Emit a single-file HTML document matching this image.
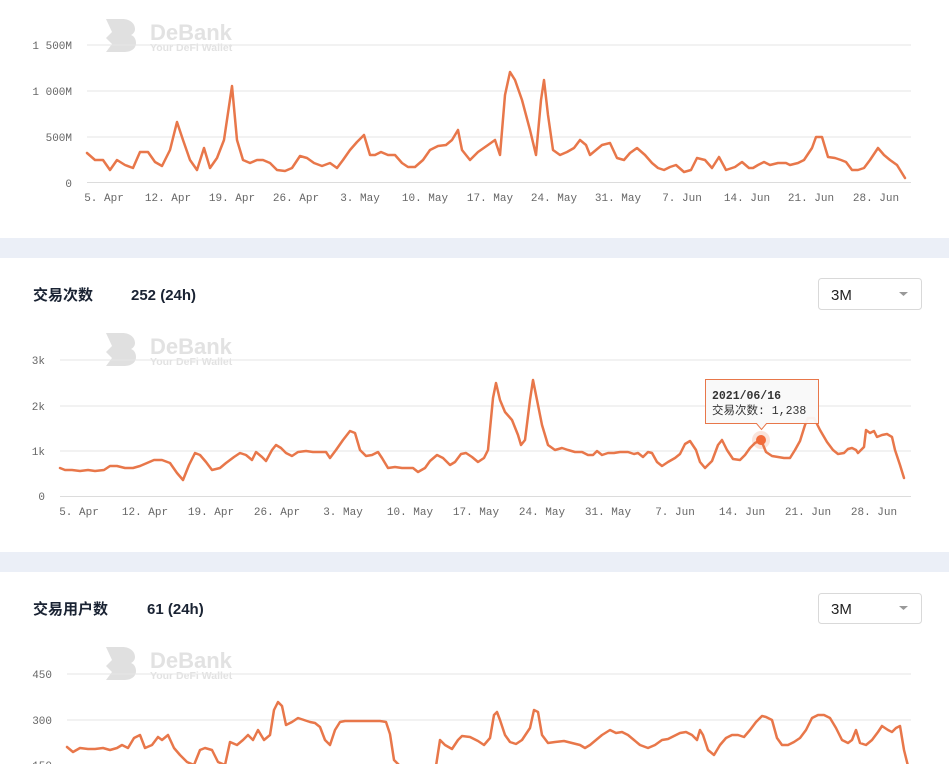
<!DOCTYPE html>
<html><head><meta charset="utf-8"><style>
html,body{margin:0;padding:0;background:#fff;width:949px;height:764px;overflow:hidden}
svg{display:block}
.ax{font-family:"Liberation Mono","Courier New",monospace;font-size:11px;fill:#666}
.t{font-family:"Liberation Sans","Noto Sans CJK SC",sans-serif;font-weight:bold;fill:#1a2333}
.wm{font-family:"Liberation Sans",sans-serif;font-weight:bold;fill:#e2e2e2}
.ln{fill:none;stroke:#e8774a;stroke-width:2.5;stroke-linejoin:round;stroke-linecap:round}
.g{stroke:#e6e6e6;stroke-width:1}
</style></head><body>
<svg width="949" height="764" viewBox="0 0 949 764" xmlns="http://www.w3.org/2000/svg">
<rect x="0" y="238" width="949" height="20" fill="#ebeff7"/>
<rect x="0" y="552" width="949" height="20" fill="#ebeff7"/>

<g>
<path d="M106 19h16c10 0 13 6 13 10 0 3-2 5-4 6 3 1 5 4 5 8 0 5-4 9-12 9h-18l6-8-6-6 6-6z" fill="#e0e0e0"/>
<text class="wm" x="150" y="40" font-size="22">DeBank</text>
<text class="wm" x="150" y="51" font-size="10.5">Your DeFi Wallet</text>
</g>
<g transform="translate(0,314)">
<path d="M106 19h16c10 0 13 6 13 10 0 3-2 5-4 6 3 1 5 4 5 8 0 5-4 9-12 9h-18l6-8-6-6 6-6z" fill="#e0e0e0"/>
<text class="wm" x="150" y="40" font-size="22">DeBank</text>
<text class="wm" x="150" y="51" font-size="10.5">Your DeFi Wallet</text>
</g>
<g transform="translate(0,628)">
<path d="M106 19h16c10 0 13 6 13 10 0 3-2 5-4 6 3 1 5 4 5 8 0 5-4 9-12 9h-18l6-8-6-6 6-6z" fill="#e0e0e0"/>
<text class="wm" x="150" y="40" font-size="22">DeBank</text>
<text class="wm" x="150" y="51" font-size="10.5">Your DeFi Wallet</text>
</g>

<!-- chart 1 -->
<line class="g" x1="87" y1="45" x2="911" y2="45"/>
<line class="g" x1="87" y1="91" x2="911" y2="91"/>
<line class="g" x1="87" y1="137" x2="911" y2="137"/>
<line x1="87" y1="182.5" x2="911" y2="182.5" stroke="#dcdcdc"/>
<g class="ax" text-anchor="end">
<text x="72" y="49">1 500M</text><text x="72" y="95">1 000M</text><text x="72" y="141">500M</text><text x="72" y="187">0</text>
</g>
<g class="ax" text-anchor="middle">
<text x="104" y="201">5. Apr</text><text x="168" y="201">12. Apr</text><text x="232" y="201">19. Apr</text><text x="296" y="201">26. Apr</text><text x="360" y="201">3. May</text><text x="425" y="201">10. May</text><text x="490" y="201">17. May</text><text x="554" y="201">24. May</text><text x="618" y="201">31. May</text><text x="682" y="201">7. Jun</text><text x="747" y="201">14. Jun</text><text x="811" y="201">21. Jun</text><text x="876" y="201">28. Jun</text>
</g>
<polyline class="ln" points="87,153 95,160 103,160 110,170 117,160 125,165 133,168 140,152 148,152 155,162 162,166 170,150 177,122 183,140 190,160 197,170 204,148 210,168 217,158 224,140 232,86 237,140 243,160 250,163 257,160 263,160 270,163 277,170 285,171 292,168 300,156 307,158 314,163 322,166 330,163 337,168 343,160 350,150 357,142 364,135 370,155 375,155 381,152 388,155 395,155 402,163 408,167 415,167 423,160 430,150 438,146 446,145 452,140 458,130 462,150 470,160 478,152 488,145 495,140 500,155 505,95 510,72 515,80 522,100 530,130 536,155 541,100 544,80 548,115 553,150 560,155 567,152 574,148 580,140 586,145 590,155 596,150 602,145 610,143 617,158 624,160 630,153 637,148 645,155 652,163 658,168 664,170 670,167 676,165 684,172 691,170 697,158 705,160 712,168 719,157 726,170 735,167 742,162 749,168 753,168 758,165 764,162 770,165 778,163 786,163 790,165 798,163 804,160 812,148 816,137 822,137 828,157 835,158 841,160 846,162 852,170 858,170 864,168 870,160 878,148 884,155 890,160 897,165 905,178"/>

<!-- chart 2 header -->
<text class="t" x="33" y="300" font-size="15">交易次数</text>
<text class="t" x="131" y="300" font-size="15">252 (24h)</text>
<rect x="818.5" y="278.5" width="103" height="31" rx="3" fill="#fff" stroke="#d9d9d9"/>
<text x="831" y="300" font-family="Liberation Sans,sans-serif" font-size="15" fill="#222">3M</text>
<path d="M899 292h9l-4.5 4z" fill="#999"/>

<line class="g" x1="60" y1="360" x2="911" y2="360"/>
<line class="g" x1="60" y1="406" x2="911" y2="406"/>
<line class="g" x1="60" y1="451" x2="911" y2="451"/>
<line x1="60" y1="496.5" x2="911" y2="496.5" stroke="#dcdcdc"/>
<g class="ax" text-anchor="end">
<text x="45" y="364">3k</text><text x="45" y="410">2k</text><text x="45" y="455">1k</text><text x="45" y="500">0</text>
</g>
<g class="ax" text-anchor="middle">
<text x="79" y="515">5. Apr</text><text x="145" y="515">12. Apr</text><text x="211" y="515">19. Apr</text><text x="277" y="515">26. Apr</text><text x="343" y="515">3. May</text><text x="410" y="515">10. May</text><text x="476" y="515">17. May</text><text x="542" y="515">24. May</text><text x="608" y="515">31. May</text><text x="675" y="515">7. Jun</text><text x="742" y="515">14. Jun</text><text x="808" y="515">21. Jun</text><text x="874" y="515">28. Jun</text>
</g>
<polyline class="ln" points="60,468 65,470 72,470 80,471 88,470 95,471 104,470 110,466 117,466 125,468 133,468 140,466 147,463 154,460 162,460 170,463 177,473 183,480 189,465 195,453 200,455 206,462 212,470 220,468 226,463 234,457 240,453 246,455 252,460 256,452 262,457 266,461 272,450 276,445 281,448 286,453 292,456 298,452 306,451 313,452 320,452 326,452 330,458 336,450 343,440 350,431 355,433 360,450 366,456 372,455 378,452 382,458 388,468 395,467 402,468 408,468 413,468 418,472 425,468 430,461 437,455 443,458 450,465 455,462 461,454 466,453 472,457 478,462 484,458 488,450 493,398 496,383 500,400 505,412 512,420 518,435 521,445 525,440 530,400 533,380 537,400 542,425 548,445 555,450 562,448 568,450 575,452 582,452 588,455 593,455 597,451 602,455 608,453 614,453 620,452 628,452 634,454 638,453 643,457 648,452 652,453 657,462 662,466 668,462 675,458 680,454 685,444 690,441 696,450 700,462 705,468 712,461 718,445 722,440 727,450 733,459 740,460 745,455 750,448 755,443 761,440 766,452 772,456 778,457 784,458 790,458 795,450 800,441 805,425 808,418 814,418 820,430 827,442 833,450 838,454 844,453 848,449 852,448 856,450 858,453 864,447 866,430 870,433 874,431 877,437 882,435 887,434 892,437 895,450 900,465 904,478"/>
<circle cx="761" cy="440" r="9" fill="#e8774a" opacity="0.2"/>
<circle cx="761" cy="440" r="5" fill="#f26b3a"/>
<path d="M705.5 379.5h113v44h-52l-5 6-5-6h-51z" fill="#f9f9f9" fill-opacity="0.95" stroke="#e8774a"/>
<text x="712" y="399" font-family="Liberation Mono,monospace" font-size="11.5" font-weight="bold" fill="#333">2021/06/16</text>
<text x="712" y="414" font-family="Liberation Mono,'Noto Sans CJK SC',monospace" font-size="11.5" fill="#333">交易次数: 1,238</text>

<!-- chart 3 header -->
<text class="t" x="33" y="614" font-size="15">交易用户数</text>
<text class="t" x="147" y="614" font-size="15">61 (24h)</text>
<rect x="818.5" y="593.5" width="103" height="30" rx="3" fill="#fff" stroke="#d9d9d9"/>
<text x="831" y="614" font-family="Liberation Sans,sans-serif" font-size="15" fill="#222">3M</text>
<path d="M899 606h9l-4.5 4z" fill="#999"/>

<line class="g" x1="67" y1="674" x2="911" y2="674"/>
<line class="g" x1="67" y1="720" x2="911" y2="720"/>
<g class="ax" text-anchor="end">
<text x="52" y="678">450</text><text x="52" y="724">300</text><text x="52" y="769">150</text>
</g>
<polyline class="ln" points="67,747 73,752 80,748 88,749 95,749 103,748 110,750 117,748 122,745 128,748 134,738 140,735 145,748 152,745 158,737 162,740 168,735 174,748 180,755 187,762 194,765 200,750 205,748 212,750 218,762 225,765 230,742 237,745 243,740 248,735 253,740 258,730 264,740 270,735 274,710 278,702 282,706 286,725 292,722 298,718 304,720 310,722 315,723 320,727 325,740 330,745 335,730 340,722 345,721 352,721 360,721 370,721 380,721 386,722 390,734 394,760 400,766 436,766 440,740 445,745 452,749 458,740 462,736 470,737 478,741 484,745 490,738 494,715 497,712 500,720 505,735 510,742 516,744 522,740 530,728 534,710 538,712 542,735 548,743 555,742 564,741 572,743 580,745 585,748 590,745 596,740 602,735 610,730 616,733 622,732 628,735 634,740 640,745 648,748 655,745 662,740 668,739 674,736 680,733 686,732 692,735 697,740 700,730 703,735 708,750 714,755 720,745 726,738 732,735 738,735 744,737 750,730 756,722 762,716 766,717 772,720 777,738 782,745 788,745 794,742 800,738 806,730 812,718 818,715 824,715 830,718 836,728 842,740 848,743 852,740 856,730 860,743 866,745 872,740 878,732 882,726 888,730 892,732 896,728 900,726 904,750 908,766"/>
</svg>
</body></html>
